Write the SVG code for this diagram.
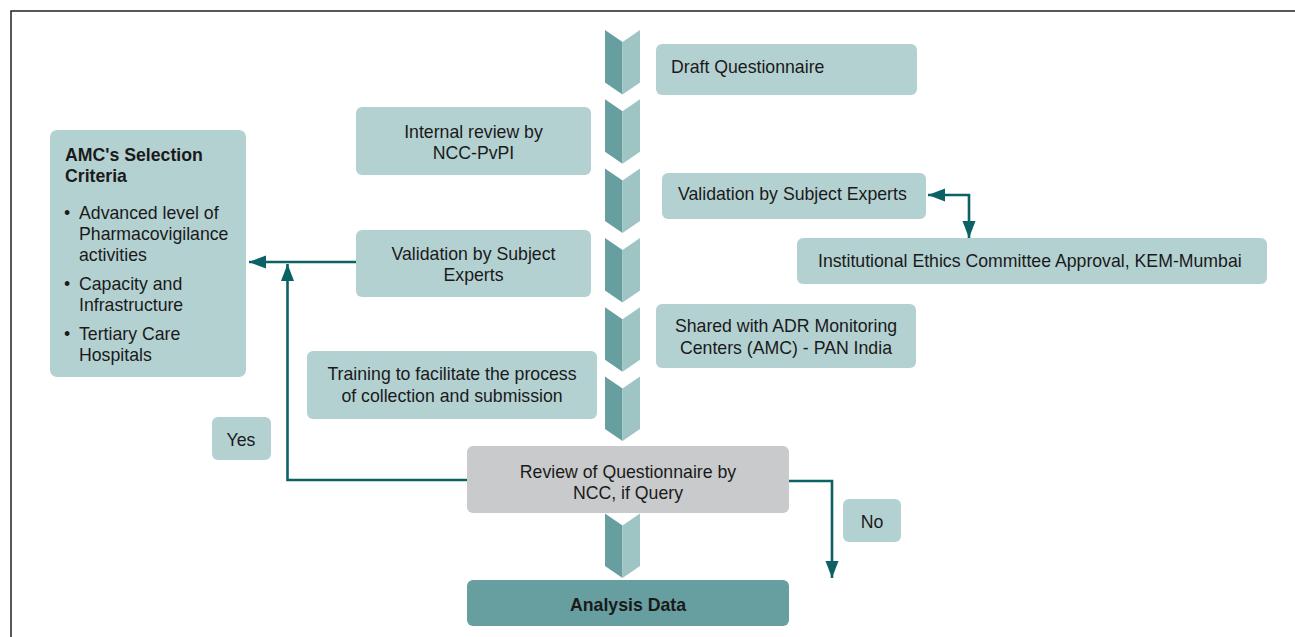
<svg xmlns="http://www.w3.org/2000/svg" width="1295" height="637" viewBox="0 0 1295 637">
<style>
  text { font-family: "Liberation Sans", Arial, sans-serif; font-size: 17.7px; fill: #1a1a1a; }
  .box { fill: #b4d1d2; }
  .gray { fill: #c9cacc; }
  .dark { fill: #679e9f; }
  .cl { fill: #679e9f; }
  .cr { fill: #9ec4c4; }
  .c { text-anchor: middle; }
  .b { font-weight: bold; }
  .conn { fill: none; stroke: #0b6163; stroke-width: 2.6; }
</style>
<defs>
  <marker id="ah" markerUnits="userSpaceOnUse" markerWidth="18" markerHeight="14" refX="17" refY="6.5" orient="auto-start-reverse">
    <path d="M0,0 L17,6.5 L0,13 z" fill="#0b6163"/>
  </marker>
  <g id="chev">
    <polygon class="cl" points="605,0 622.5,12 622.5,64.5 605,52.5"/>
    <polygon class="cr" points="622.5,12 640,0 640,52.5 622.5,64.5"/>
  </g>
</defs>
<rect width="1295" height="637" fill="#ffffff"/>
<path d="M11,637 L11,11 L1295,11" fill="none" stroke="#222" stroke-width="1.5"/>

<g id="spine">
  <use href="#chev" y="30"/>
  <use href="#chev" y="99.3"/>
  <use href="#chev" y="168.6"/>
  <use href="#chev" y="238"/>
  <use href="#chev" y="307.3"/>
  <use href="#chev" y="376.6"/>
  <use href="#chev" y="513.5"/>
</g>

<g id="connectors">
  <path class="conn" d="M356,262 L249,262" marker-end="url(#ah)"/>
  <path class="conn" d="M467,480 L287.5,480 L287.5,264" marker-end="url(#ah)"/>
  <path class="conn" d="M789,481 L832,481 L832,578" marker-end="url(#ah)"/>
  <path class="conn" d="M928,195 L969,195 L969,238" marker-start="url(#ah)" marker-end="url(#ah)"/>
</g>

<g id="draft">
  <rect class="box" x="656" y="44" width="261" height="51" rx="6"/>
  <text x="671" y="73">Draft Questionnaire</text>
</g>
<g id="internal">
  <rect class="box" x="356" y="107" width="235" height="68" rx="6"/>
  <text class="c" x="473.5" y="138">Internal review by</text>
  <text class="c" x="473.5" y="159">NCC-PvPI</text>
</g>
<g id="validation-right">
  <rect class="box" x="662" y="173" width="264" height="46" rx="6"/>
  <text x="678" y="200">Validation by Subject Experts</text>
</g>
<g id="ethics">
  <rect class="box" x="797" y="238" width="470" height="46" rx="6"/>
  <text x="818" y="267">Institutional Ethics Committee Approval, KEM-Mumbai</text>
</g>
<g id="validation-left">
  <rect class="box" x="356" y="230" width="235" height="67" rx="6"/>
  <text class="c" x="473.5" y="260">Validation by Subject</text>
  <text class="c" x="473.5" y="281">Experts</text>
</g>
<g id="shared">
  <rect class="box" x="656" y="304" width="260" height="64" rx="6"/>
  <text class="c" x="786" y="332">Shared with ADR Monitoring</text>
  <text class="c" x="786" y="354">Centers (AMC) - PAN India</text>
</g>
<g id="training">
  <rect class="box" x="307" y="351" width="290" height="68" rx="6"/>
  <text class="c" x="452" y="380">Training to facilitate the process</text>
  <text class="c" x="452" y="402">of collection and submission</text>
</g>
<g id="review">
  <rect class="gray" x="467" y="446" width="322" height="67" rx="6"/>
  <text class="c" x="628" y="478">Review of Questionnaire by</text>
  <text class="c" x="628" y="499">NCC, if Query</text>
</g>
<g id="analysis">
  <rect class="dark" x="467" y="580" width="322" height="46" rx="6"/>
  <text class="c b" x="628" y="611">Analysis Data</text>
</g>
<g id="criteria">
  <rect class="box" x="50" y="130" width="196" height="247" rx="7"/>
  <text class="b" x="65" y="161">AMC's Selection</text>
  <text class="b" x="65" y="182">Criteria</text>
  <text x="64" y="219">•</text>
  <text x="79" y="219">Advanced level of</text>
  <text x="79" y="240">Pharmacovigilance</text>
  <text x="79" y="261">activities</text>
  <text x="64" y="290">•</text>
  <text x="79" y="290">Capacity and</text>
  <text x="79" y="311">Infrastructure</text>
  <text x="64" y="340">•</text>
  <text x="79" y="340">Tertiary Care</text>
  <text x="79" y="361">Hospitals</text>
</g>
<g id="yes">
  <rect class="box" x="212" y="417" width="59" height="43" rx="6"/>
  <text class="c" x="241" y="446">Yes</text>
</g>
<g id="no">
  <rect class="box" x="843" y="499" width="58" height="43" rx="6"/>
  <text class="c" x="872" y="528">No</text>
</g>
</svg>
